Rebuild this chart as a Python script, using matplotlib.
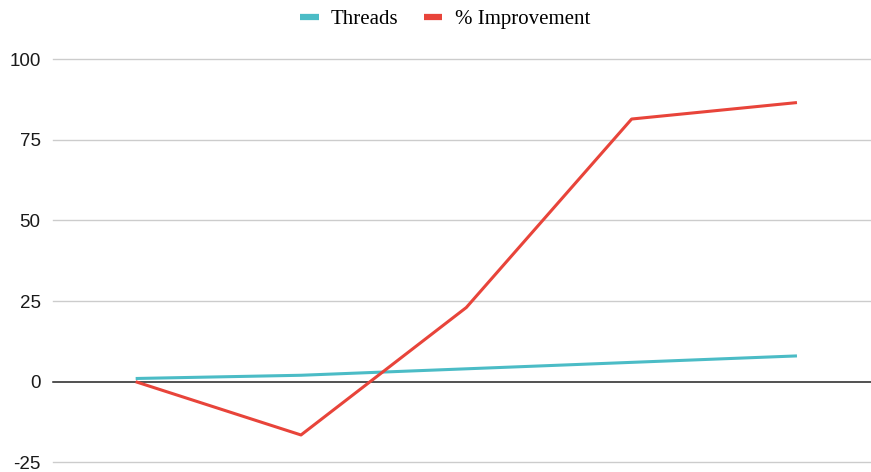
import matplotlib
matplotlib.use("Agg")
import matplotlib.pyplot as plt
from matplotlib.lines import Line2D

# Benchmark runs: thread count and speed-up relative to the single-thread run
runs = ["1", "2", "3", "4", "5"]
threads = [1, 2, 4, 6, 8]
improvement = [0, -16.5, 23, 81.4, 86.5]

y_ticks = [-25, 0, 25, 50, 75, 100]

teal = "#4bbcc6"
red = "#e8443a"

W, H = 871, 472
fig = plt.figure(figsize=(W / 100, H / 100), dpi=100)
ax = fig.add_axes([53 / W, (H - 462.4) / H, 1 - 53 / W, (462.4 - 59) / H])

x = list(range(len(runs)))
ax.plot(x, threads, color=teal, lw=2.2, solid_capstyle="butt", zorder=3)
ax.plot(x, improvement, color=red, lw=2.2, solid_capstyle="butt", zorder=4)

ax.set_ylim(-25, 100)
ax.set_xlim(-0.5, 4 + (W - 797) / 165.25)
ax.set_yticks(y_ticks)
ax.set_yticklabels([str(t) for t in y_ticks], family="Liberation Sans",
                   fontsize=13.5, color="#1a1a1a")
ax.set_xticks([])
ax.tick_params(axis="y", length=0, pad=9)
for s in ax.spines.values():
    s.set_visible(False)

for t in y_ticks:
    if t == 0:
        ax.axhline(t, color="#222222", lw=1.1, zorder=2, clip_on=False)
    else:
        ax.axhline(t, color="#cccccc", lw=1.0, zorder=1, clip_on=False)

handles = [Line2D([], [], color=teal, lw=4.5, solid_capstyle="butt"),
           Line2D([], [], color=red, lw=4.5, solid_capstyle="butt")]
fig.legend(handles, ["Threads", "% Improvement"], loc="center",
           bbox_to_anchor=(445 / W, 1 - 19 / H), ncol=2, frameon=False,
           prop={"family": "Liberation Serif", "size": 15},
           handlelength=0.9, handletextpad=0.6, columnspacing=1.2)

fig.savefig("out.png", dpi=100)
